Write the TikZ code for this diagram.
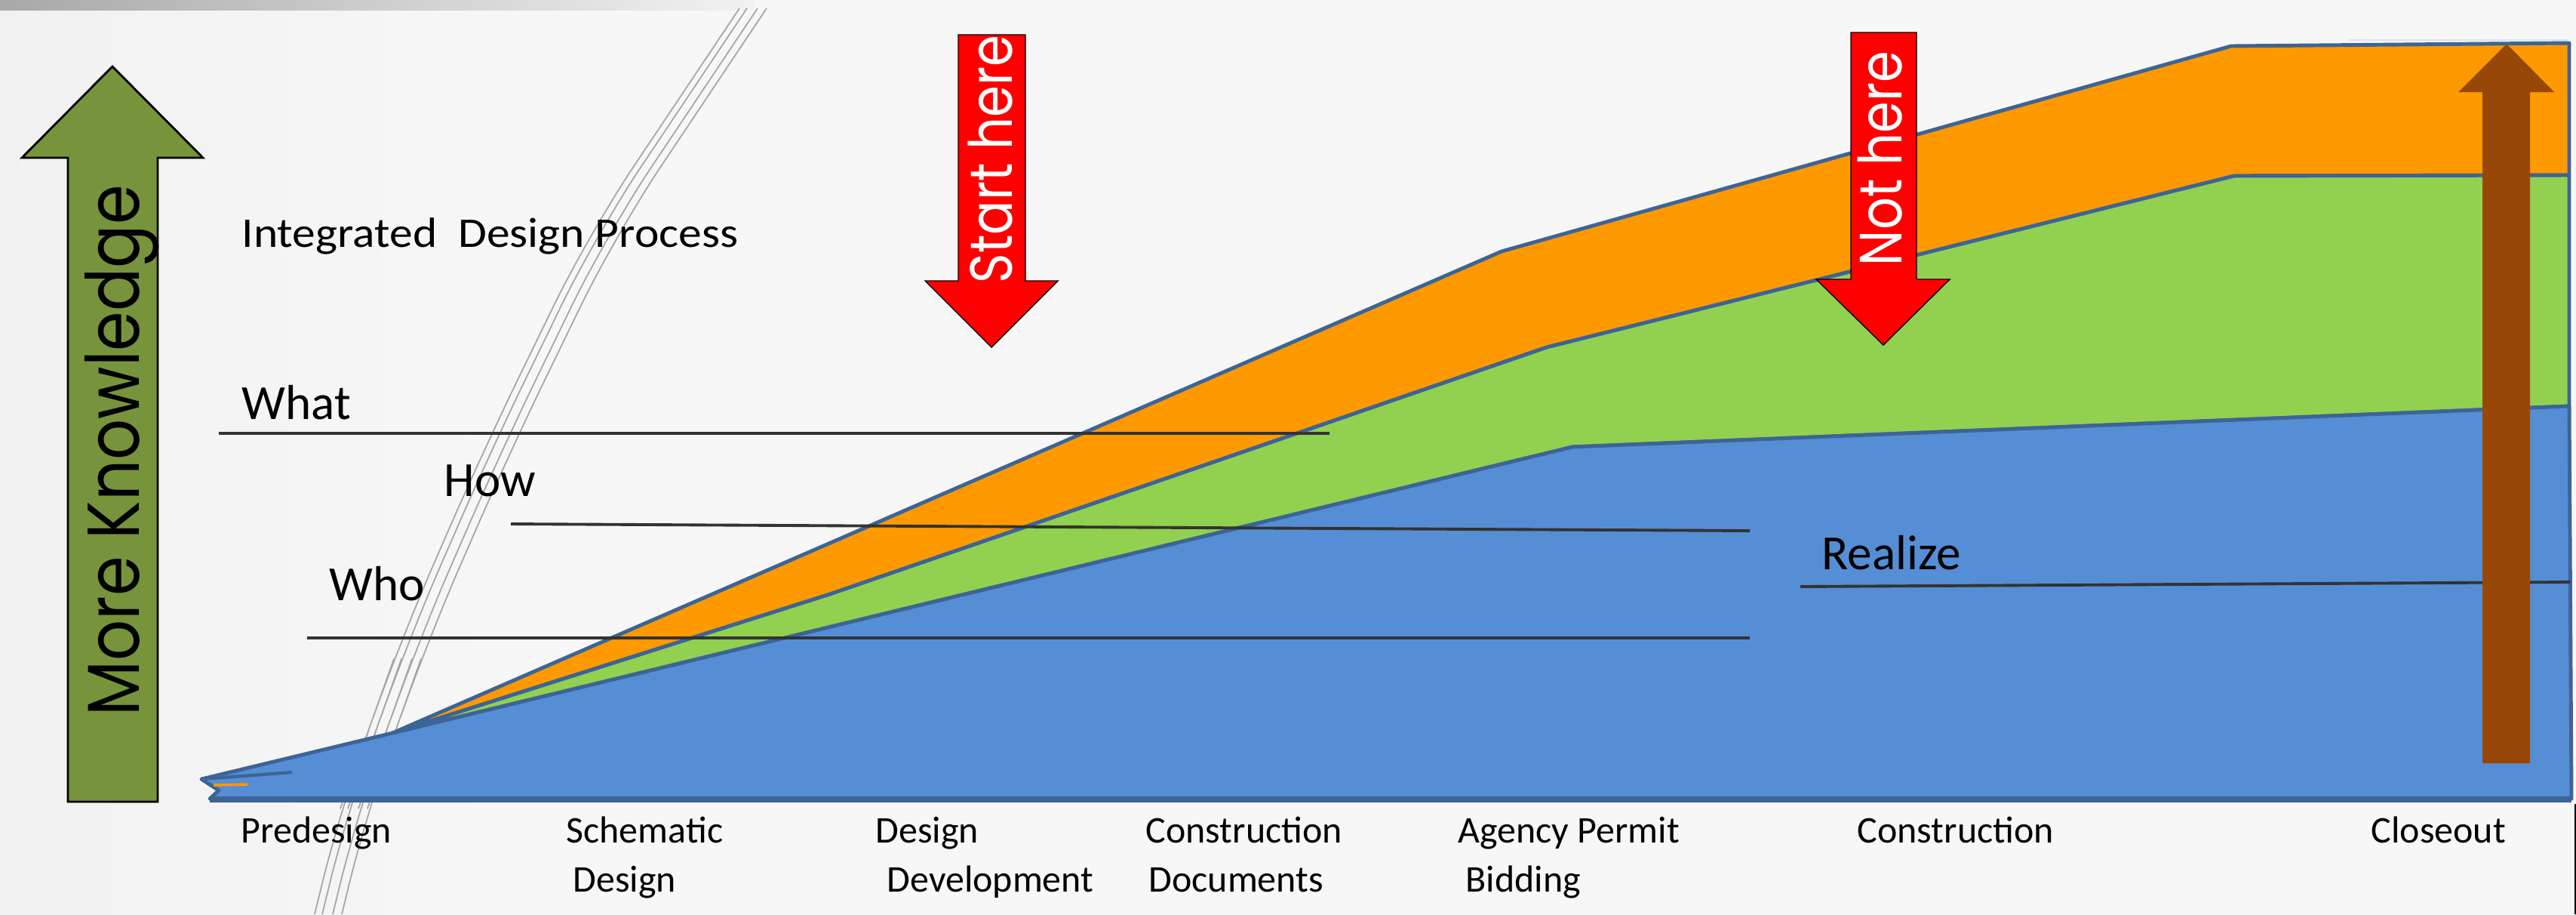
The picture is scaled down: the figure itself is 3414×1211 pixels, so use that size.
\documentclass[tikz,border=0pt]{standalone}
\usepackage{fontspec}
\setmainfont{Carlito}
\newfontfamily\geofont{Poppins}

\definecolor{knowgreen}{HTML}{77933C}
\definecolor{stopred}{HTML}{FF0000}
\definecolor{rustbrown}{HTML}{974806}
\definecolor{layorange}{HTML}{FF9900}
\definecolor{laygreen}{HTML}{92D050}
\definecolor{layblue}{HTML}{558ED5}
\definecolor{layedge}{HTML}{3D6496}
\definecolor{bgleft}{HTML}{E3E3E3}
\definecolor{bgmid}{HTML}{F7F7F7}
\definecolor{bgfade}{HTML}{DADADA}
\definecolor{bgright}{HTML}{B2B2B2}
\pgfdeclarehorizontalshading{paper}{100bp}{color(0bp)=(bgleft); color(35bp)=(bgmid); color(78bp)=(bgmid); color(90bp)=(bgfade); color(100bp)=(bgright)}

\begin{document}
\begin{tikzpicture}[x=0.01cm,y=-0.01cm,
  layer/.style={draw=layedge,line width=1.4pt,line join=round},
  rule/.style={draw=black!80,line width=1.1pt},
  tag/.style={inner sep=0pt,anchor=base west,font=\fontsize{18.5}{22}\selectfont},
  phase/.style={inner sep=0pt,anchor=base west,font=\fontsize{14.2}{17}\selectfont},
  upright/.style={rotate=90,anchor=base,inner sep=0pt},
  breakline/.style={draw=black!35,line width=0.5pt,rounded corners=30pt}]
\useasboundingbox (0,0) rectangle (3414,1211);

% background
\fill[shading=paper] (0,0) rectangle (3414,1211);
\fill[left color=black!34,right color=black!5] (0,0) rectangle (1000,13);

% break lines behind the chart
\foreach \dx in {-18,-8,6,18}
  \draw[breakline,shift={(\dx,0)}] (998,11) -- (798,310) -- (657,600) -- (548,850) -- (505,972) -- (470,1068) -- (435,1211);

% stacked layers
\draw[layer,fill=layorange] (520,971) -- (1990,333) -- (2957,61) -- (3405,57) -- (3405,232) -- (2961,233) -- (2050,460) -- (1100,787) -- cycle;
\draw[layer,fill=laygreen] (520,971) -- (1100,787) -- (2050,460) -- (2961,233) -- (3405,232) -- (3405,538) -- (2084,592) -- cycle;
\draw[layer,fill=layblue] (278,1058) -- (290,1047) -- (267,1032) -- (520,971) -- (2084,592) -- (3405,538) -- (3408,1058) -- cycle;
\draw[layedge,line width=2.2pt] (278,1059) -- (3408,1059);
\draw[layedge,line width=1.2pt] (267,1032) -- (387,1023);
\draw[layorange,line width=1pt] (283,1040) -- (328,1039);
\draw[white!75!layblue,line width=0.8pt] (3113,53) -- (3403,53);
\draw[black,line width=0.6pt] (3413,1065) -- (3413,1211);

% rules
\coordinate (what-l) at (290,574); \coordinate (what-r) at (1762,574);
\coordinate (how-l) at (677,694); \coordinate (how-r) at (2319,703);
\coordinate (who-l) at (407,845); \coordinate (who-r) at (2319,845);
\coordinate (real-l) at (2386,777); \coordinate (real-r) at (3406,771);
\draw[rule] (what-l) -- (what-r);
\draw[rule] (how-l) -- (how-r);
\draw[rule] (who-l) -- (who-r);
\draw[rule] (real-l) -- (real-r);

% block arrows
\draw[fill=knowgreen,draw=black,line width=0.8pt] (90,1062) -- (90,209) -- (29,209) -- (149,88) -- (269,209) -- (209,209) -- (209,1062) -- cycle;
\draw[fill=stopred,draw=black,line width=0.4pt] (1270,372) -- (1270,46) -- (1359,46) -- (1359,372) -- (1402,372) -- (1314,460) -- (1226,372) -- cycle;
\draw[fill=stopred,draw=black,line width=0.4pt] (2453,370) -- (2453,43) -- (2540,43) -- (2540,370) -- (2584,370) -- (2496,457) -- (2407,370) -- cycle;
\fill[rustbrown] (3290,1011) -- (3290,122) -- (3258,122) -- (3322,58) -- (3385,122) -- (3353,122) -- (3353,1011) -- cycle;

% texts
\node[upright,font=\geofont\fontsize{27.7}{30}\selectfont] (know) at (184,597) {\scalebox{0.87}[1]{More Knowledge}};
\node[upright,text=white,font=\geofont\fontsize{22.5}{25}\selectfont] (start) at (1341,211) {\scalebox{0.85}[1]{Start here}};
\node[upright,text=white,font=\geofont\fontsize{22.5}{25}\selectfont] (nothere) at (2520,210) {\scalebox{0.85}[1]{Not here}};
\node[inner sep=0pt,anchor=base west,font=\fontsize{15.9}{19}\selectfont] (idp) at (320,327) {\scalebox{1.1}[1]{Integrated\ \ Design Process}};
\node[tag] (what) at (320,555) {What};
\node[tag] (how) at (588,657) {How};
\node[tag] (who) at (436,795) {Who};
\node[tag] (realize) at (2414,754) {Realize};

\node[phase] (pre) at (319,1116) {Predesign};
\node[phase] (sd1) at (750,1116) {Schematic};
\node[phase] (sd2) at (759,1181) {Design};
\node[phase] (dd1) at (1160,1116) {Design};
\node[phase] (dd2) at (1175,1181) {Development};
\node[phase] (cd1) at (1518,1116) {Construction};
\node[phase] (cd2) at (1522,1181) {Documents};
\node[phase] (ap1) at (1932,1116) {Agency Permit};
\node[phase] (ap2) at (1942,1181) {Bidding};
\node[phase] (con) at (2461,1116) {Construction};
\node[phase] (close) at (3142,1116) {Closeout};
\end{tikzpicture}
\end{document}
